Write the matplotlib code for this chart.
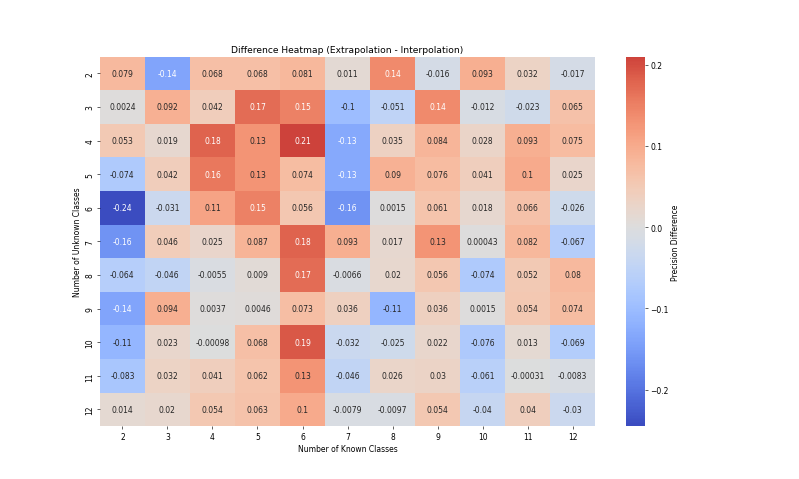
import matplotlib
matplotlib.use("Agg")
import matplotlib.pyplot as plt
import numpy as np
import pandas as pd
import seaborn as sns

known_classes = [2, 3, 4, 5, 6, 7, 8, 9, 10, 11, 12]
unknown_classes = [2, 3, 4, 5, 6, 7, 8, 9, 10, 11, 12]

# rows = unknown classes, cols = known classes
diff_u2 = [0.079, -0.14, 0.068, 0.068, 0.081, 0.011, 0.14, -0.016, 0.093, 0.032, -0.017]
diff_u3 = [0.0024, 0.092, 0.042, 0.17, 0.15, -0.1, -0.051, 0.14, -0.012, -0.023, 0.065]
diff_u4 = [0.053, 0.019, 0.18, 0.13, 0.21, -0.13, 0.035, 0.084, 0.028, 0.093, 0.075]
diff_u5 = [-0.074, 0.042, 0.16, 0.13, 0.074, -0.13, 0.09, 0.076, 0.041, 0.1, 0.025]
diff_u6 = [-0.245, -0.031, 0.11, 0.15, 0.056, -0.16, 0.0015, 0.061, 0.018, 0.066, -0.026]
diff_u7 = [-0.16, 0.046, 0.025, 0.087, 0.18, 0.093, 0.017, 0.13, 0.00043, 0.082, -0.067]
diff_u8 = [-0.064, -0.046, -0.0055, 0.009, 0.17, -0.0066, 0.02, 0.056, -0.074, 0.052, 0.08]
diff_u9 = [-0.14, 0.094, 0.0037, 0.0046, 0.073, 0.036, -0.11, 0.036, 0.0015, 0.054, 0.074]
diff_u10 = [-0.11, 0.023, -0.00098, 0.068, 0.19, -0.032, -0.025, 0.022, -0.076, 0.013, -0.069]
diff_u11 = [-0.083, 0.032, 0.041, 0.062, 0.13, -0.046, 0.026, 0.03, -0.061, -0.00031, -0.0083]
diff_u12 = [0.014, 0.02, 0.054, 0.063, 0.1, -0.0079, -0.0097, 0.054, -0.04, 0.04, -0.03]

diff = pd.DataFrame(
    [diff_u2, diff_u3, diff_u4, diff_u5, diff_u6, diff_u7,
     diff_u8, diff_u9, diff_u10, diff_u11, diff_u12],
    index=unknown_classes,
    columns=known_classes,
)

DPI = 55
fig, ax = plt.subplots(figsize=(799 / DPI, 480 / DPI), dpi=DPI)
sns.heatmap(
    diff,
    annot=True,
    cmap="coolwarm",
    center=0,
    ax=ax,
    cbar_kws={"label": "Precision Difference"},
)
ax.set_title("Difference Heatmap (Extrapolation - Interpolation)")
ax.set_xlabel("Number of Known Classes")
ax.set_ylabel("Number of Unknown Classes")
fig.savefig("out.png", dpi=DPI)
plt.close(fig)
